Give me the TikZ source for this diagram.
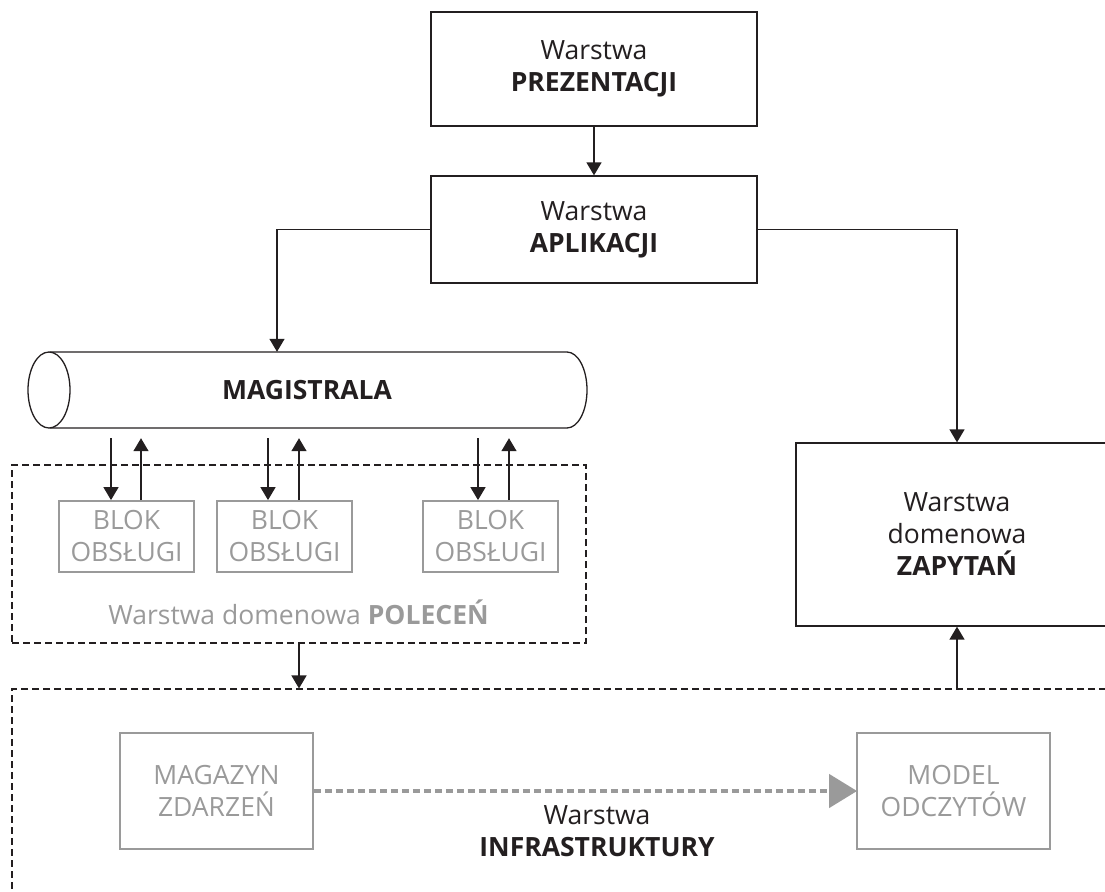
\documentclass[tikz,border=0pt]{standalone}
\usepackage{fontspec}
\setmainfont{Open Sans}
\usetikzlibrary{arrows.meta,calc}
\definecolor{ink}{HTML}{231F20}
\definecolor{dim}{HTML}{9A9A9A}
\tikzset{
  txt/.style={font=\fontsize{26.5}{32}\selectfont, align=center},
  layer/.style={txt, draw=ink, line width=1.3pt, text=ink, inner sep=0pt},
  grey box/.style={txt, draw=dim, line width=1.8pt, text=dim, inner sep=0pt},
  handler/.style={grey box, minimum width=135pt, minimum height=71pt},
  store/.style={grey box, minimum width=193pt, minimum height=116pt},
  zone/.style={draw=ink, line width=1.1pt, dash pattern=on 7pt off 4pt, inner sep=0pt},
  flow/.style={draw=ink, line width=1.4pt, -{Triangle[length=13pt,width=15pt]}},
  feed/.style={draw=dim, line width=4.5pt, dash pattern=on 7pt off 4pt,
    -{Triangle[length=28pt,width=33pt]}, shorten >=-1pt},
}
\begin{document}
\begin{tikzpicture}[x=1pt,y=-1pt]
\useasboundingbox (0,0) rectangle (1105,891);
\clip (0,0) rectangle (1105,891);

% upper layers
\node[layer, minimum width=326pt, minimum height=114pt] (pres) at (594,69)
  {Warstwa\\\textbf{PREZENTACJI}};
\node[layer, minimum width=326pt, minimum height=107pt] (app) at (594,229.5)
  {Warstwa\\\textbf{APLIKACJI}};
\draw[flow] (pres) -- (app);

% message bus drawn as a horizontal pipe
\node[txt, text=ink, minimum width=560pt, minimum height=76pt] (bus) at (307,390)
  {\textbf{MAGISTRALA}};
\draw[ink, line width=1.3pt]
  (49,390) ellipse [x radius=21pt, y radius=38pt];
\draw[ink, line width=1.3pt]
  (50,352) -- (567,352)
  .. controls (578,352) and (587,369) .. (587,390)
  .. controls (587,411) and (578,428) .. (567,428) -- (50,428);

% command side
\node[zone, minimum width=574pt, minimum height=178pt] (cmd) at (299,554) {};
\node[handler] (h1) at (126.5,536.5) {BLOK\\OBSŁUGI};
\node[handler] (h2) at (284.5,536.5) {BLOK\\OBSŁUGI};
\node[handler] (h3) at (490.5,536.5) {BLOK\\OBSŁUGI};
\node[txt, text=dim] (cmdlabel) at (298.5,612) {Warstwa domenowa \textbf{POLECEŃ}};

\foreach \h/\dl/\dr in {h1/-15.5/14.5, h2/-16.5/14.5, h3/-12.5/18.5} {
  \draw[flow] ([xshift=\dl pt, yshift=-10pt]\h.north |- bus.south) -- ([xshift=\dl pt]\h.north);
  \draw[flow] ([xshift=\dr pt]\h.north) -- ([xshift=\dr pt, yshift=-10pt]\h.north |- bus.south);
}

% query side
\node[layer, minimum width=322pt, minimum height=183pt] (query) at (957,534.5)
  {Warstwa\\domenowa\\\textbf{ZAPYTAŃ}};

% infrastructure
\node[zone, minimum width=1110pt, minimum height=260pt] (infra) at (567,819) {};
\node[store] (events) at (216.5,791) {MAGAZYN\\ZDARZEŃ};
\node[store] (reads) at (953.5,791) {MODEL\\ODCZYTÓW};
\node[txt, text=ink] (infralabel) at (597,831) {Warstwa\\\textbf{INFRASTRUKTURY}};
\draw[feed] (events) -- (reads);

% connectors between layers
\draw[flow] (app.west) -| ([xshift=-30pt]bus.north);
\draw[flow] (app.east) -| (query.north);
\draw[flow] (cmd.south) -- (cmd.south |- infra.north);
\draw[flow] (query.south |- infra.north) -- (query.south);
\end{tikzpicture}
\end{document}
